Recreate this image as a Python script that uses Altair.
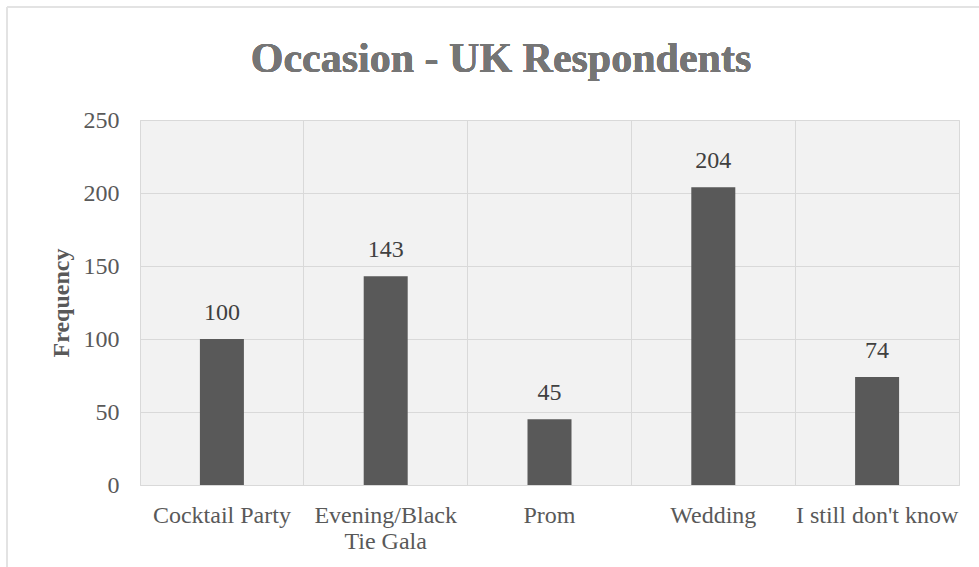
import altair as alt
import pandas as pd

categories = ["Cocktail Party", "Evening/Black Tie Gala", "Prom", "Wedding", "I still don't know"]
frequencies = [100, 143, 45, 204, 74]
y_ticks = [0, 50, 100, 150, 200, 250]
title_text = "Occasion - UK Respondents"

df = pd.DataFrame({"Occasion": categories, "Frequency": frequencies})

FONT = "Liberation Serif"
TXT = "#595959"

x_enc = alt.X(
    "Occasion:N",
    sort=categories,
    title=None,
    scale=alt.Scale(paddingInner=0, paddingOuter=0),
    axis=alt.Axis(
        grid=True,
        bandPosition=0,
        gridColor="#d9d9d9",
        gridWidth=1,
        domain=False,
        ticks=False,
        labelAngle=0,
        labelFont=FONT,
        labelFontSize=24,
        labelColor=TXT,
        labelPadding=18,
        labelLineHeight=26,
        labelBaseline="top",
        labelExpr="datum.value == 'Evening/Black Tie Gala' ? ['Evening/Black', 'Tie Gala'] : datum.value",
    ),
)
y_enc = alt.Y(
    "Frequency:Q",
    scale=alt.Scale(domain=[0, 250], nice=False),
    axis=alt.Axis(
        values=y_ticks,
        title="Frequency",
        titleFont=FONT,
        titleFontSize=24,
        titleFontWeight="bold",
        titleColor=TXT,
        titlePadding=10,
        gridColor="#d9d9d9",
        gridWidth=1,
        domain=False,
        ticks=False,
        labelFont=FONT,
        labelFontSize=24,
        labelColor=TXT,
        labelPadding=21,
    ),
)

bars = alt.Chart(df).mark_bar(color="#595959", width=44).encode(x=x_enc, y=y_enc)
labels = alt.Chart(df).mark_text(
    font=FONT, fontSize=24, color="#404040", dy=-19, baseline="alphabetic"
).encode(
    x=alt.X("Occasion:N", sort=categories),
    y="Frequency:Q",
    text="Frequency:Q",
)

title_mark = alt.Chart(df).mark_text(
    text=title_text,
    font=FONT,
    fontSize=42,
    fontWeight="bold",
    color="#757575",
    baseline="middle",
    align="center",
).encode(x=alt.value(361), y=alt.value(-61))

frame_top = alt.Chart(df).mark_rule(color="#e3e3e3", strokeWidth=2).encode(
    x=alt.value(-133), x2=alt.value(850), y=alt.value(-113)
)
frame_left = alt.Chart(df).mark_rule(color="#e3e3e3", strokeWidth=2).encode(
    x=alt.value(-133), y=alt.value(-113), y2=alt.value(450)
)

chart = (
    alt.layer(bars, labels, title_mark, frame_top, frame_left)
    .properties(
        width=819,
        height=365,
        autosize=alt.AutoSizeParams(type="none"),
        padding={"left": 140, "top": 120, "right": 20, "bottom": 82},
        background="white",
    )
    .configure_view(fill="#f2f2f2", stroke="#d9d9d9", strokeWidth=1)
)

chart.save("out.html", embed_options={"renderer": "svg", "actions": False})
